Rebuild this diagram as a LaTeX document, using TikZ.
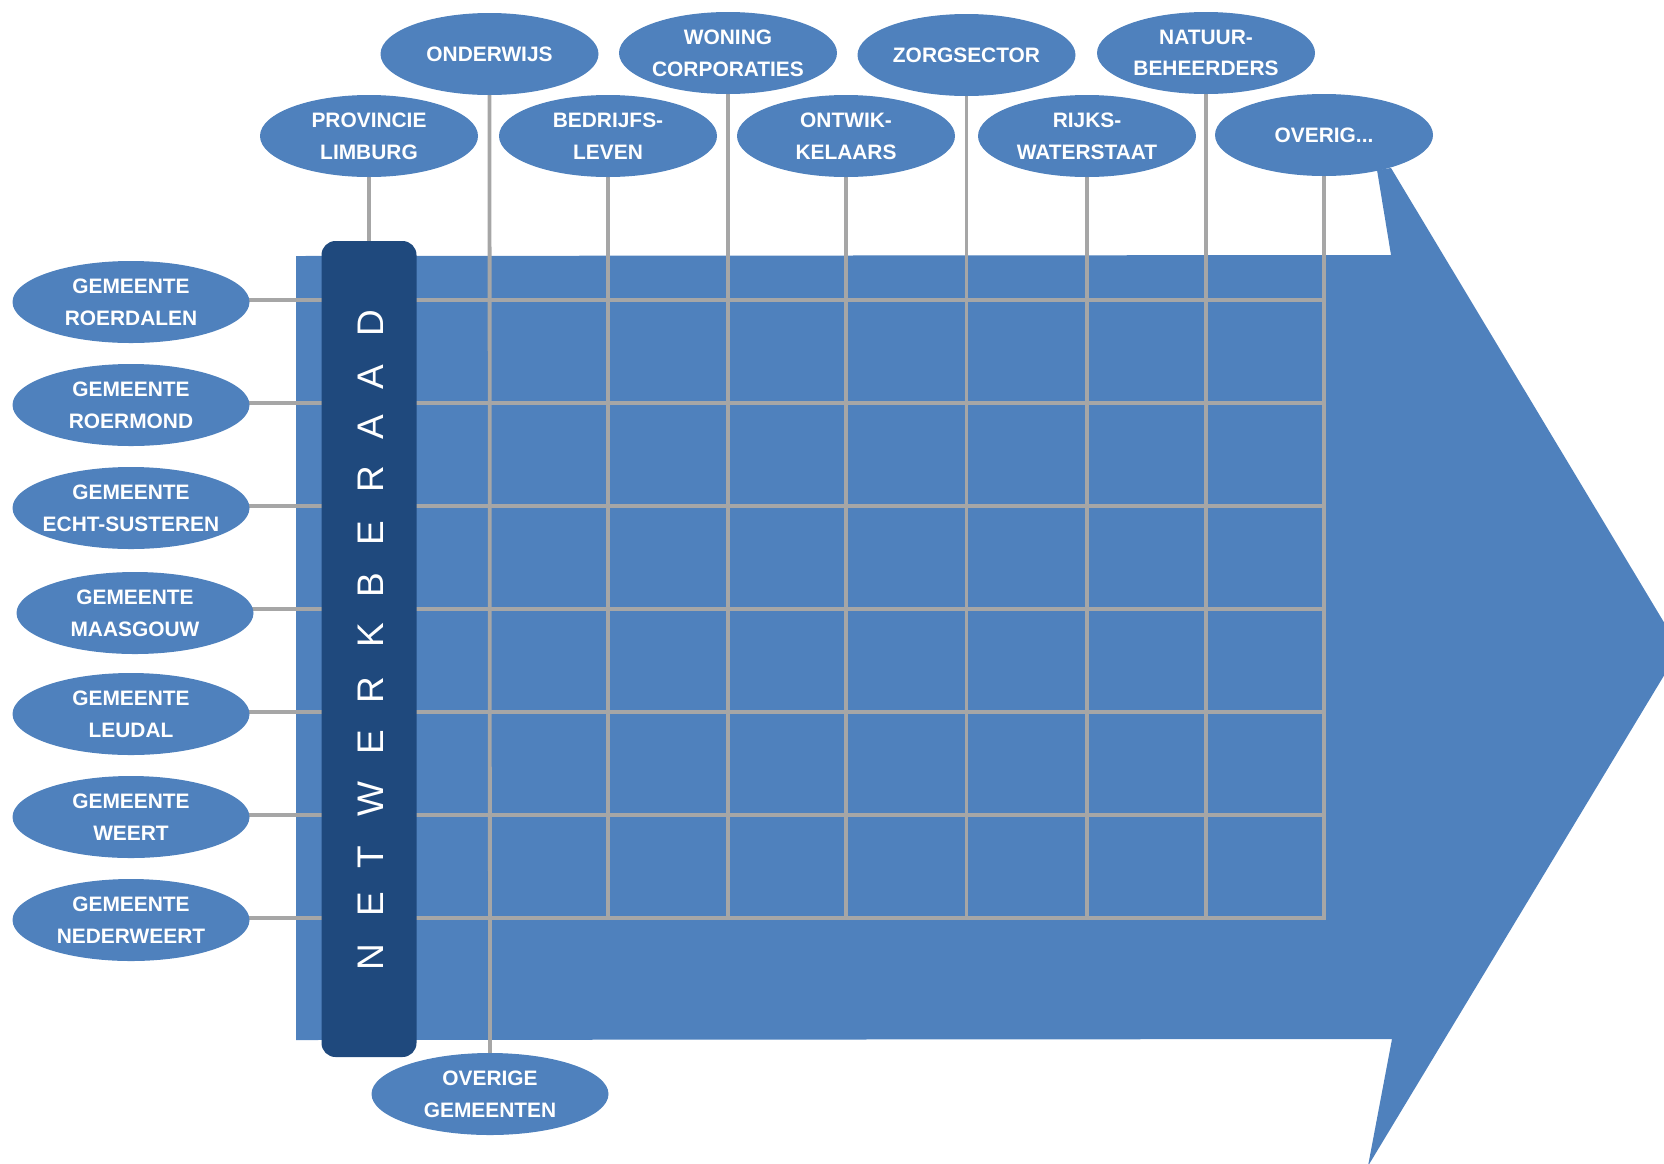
\documentclass[tikz,border=0pt]{standalone}
\usepackage{fontspec}
\setmainfont{Liberation Sans}
\usetikzlibrary{shapes.geometric}
\definecolor{nodeblue}{HTML}{4F81BD}
\definecolor{boxnavy}{HTML}{1F497D}
\definecolor{gridgray}{HTML}{A6A6A6}
\pgfdeclarelayer{bg}
\pgfdeclarelayer{lines}
\pgfsetlayers{bg,lines,main}
\begin{document}
\begin{tikzpicture}[x=1pt,y=-1pt,
  blob/.style={ellipse, fill=nodeblue, inner sep=0pt, align=center, text=white,
    font=\fontsize{20.9}{31.7}\selectfont\bfseries},
  topblob/.style={blob, minimum width=218pt, minimum height=82pt},
  sideblob/.style={blob, minimum width=237pt, minimum height=82pt},
  gridline/.style={draw=gridgray, line width=3.8pt},
  navybox/.style={fill=boxnavy, rounded corners=14pt, inner sep=0pt,
    minimum width=95pt, minimum height=816pt},
  letter/.style={text=white, font=\fontsize{37}{37}\selectfont, rotate=90, inner sep=0pt}]

\useasboundingbox (0,0) rectangle (1664,1163);

% top row nodes
\node[topblob] (ond)   at (489.5,54) {ONDERWIJS};
\node[topblob] (won)   at (728,53)   {WONING\\CORPORATIES};
\node[topblob] (zorg)  at (966.5,55) {ZORGSECTOR};
\node[topblob] (nat)   at (1206,53)  {NATUUR-\\BEHEERDERS};
\node[topblob] (prov)  at (369,136)  {PROVINCIE\\LIMBURG};
\node[topblob] (bed)   at (608,136)  {BEDRIJFS-\\LEVEN};
\node[topblob] (ontw)  at (846,136)  {ONTWIK-\\KELAARS};
\node[topblob] (rijks) at (1087,136) {RIJKS-\\WATERSTAAT};
\node[topblob] (ovr)   at (1324,135) {OVERIG...};

% left column nodes (centres about 2pt below their grid line)
\node[sideblob] (roerd) at (131,302) {GEMEENTE\\ROERDALEN};
\node[sideblob] (roerm) at (131,405) {GEMEENTE\\ROERMOND};
\node[sideblob, inner xsep=-20pt] (echt) at (131,508) {GEMEENTE\\ECHT-SUSTEREN};
\node[sideblob] (maas)  at (135,613) {GEMEENTE\\MAASGOUW};
\node[sideblob] (leud)  at (131,714) {GEMEENTE\\LEUDAL};
\node[sideblob] (weert) at (131,817) {GEMEENTE\\WEERT};
\node[sideblob] (neder) at (131,920) {GEMEENTE\\NEDERWEERT};

% bottom node
\node[sideblob] (ovg) at (490,1094) {OVERIGE\\GEMEENTEN};

% central dark bar
\node[navybox] (nb) at (369,649) {};
\foreach \l/\yy [count=\i] in {N/957.5, E/904, T/856.7, W/799, E/741.7, R/690,
    K/635, B/585, E/533, R/479, A/427, A/376.7, D/323.3}
  \node[letter] (nbl\i) at (371,\yy) {\l};

\coordinate (gridR) at (1326,0);
\coordinate (gridB) at (0,919.9);

% big arrow
\begin{pgfonlayer}{bg}
\fill[nodeblue] (296,256) -- (1391,255) -- (1377,170) -- (1391,168) -- (1680,649)
  -- (1368,1166) -- (1392,1039) -- (296,1040) -- cycle;
\end{pgfonlayer}

% grid lines
\begin{pgfonlayer}{lines}
\foreach \n in {roerd,roerm,echt,leud,weert,neder}
  \draw[gridline] ([yshift=2pt]\n.center) -- ([yshift=2pt]\n.center -| gridR);
\draw[gridline] ([yshift=4pt]maas.center) -- ([yshift=4pt]maas.center -| gridR);
\foreach \n in {won,zorg,nat,bed,ontw,rijks,ovr}
  \draw[gridline] (\n.center) -- (\n.center |- gridB);
\draw[gridline] (ond.center) -- (ovg.center);
\draw[gridline] (prov.center) -- (nb.north);
\end{pgfonlayer}
\end{tikzpicture}
\end{document}
